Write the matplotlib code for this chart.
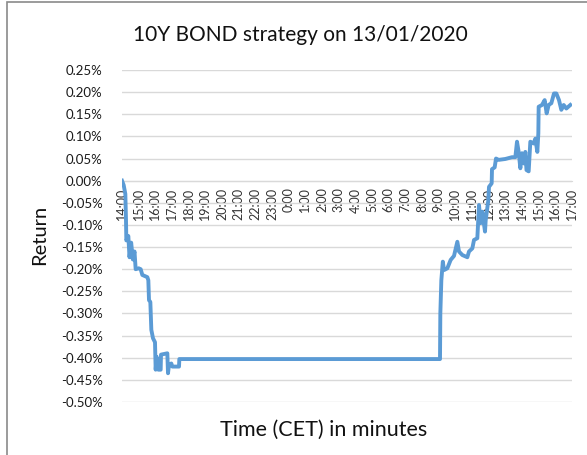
import matplotlib
matplotlib.use("Agg")
import matplotlib.pyplot as plt
from matplotlib.ticker import FuncFormatter, MultipleLocator
from matplotlib.patches import Rectangle

# hours elapsed since 14:00 on the first day
hours = [0.00, 0.10, 0.20, 0.24, 0.26, 0.38, 0.45, 0.55, 0.65, 0.75, 0.82, 1.00,
         1.12, 1.22, 1.52, 1.58, 1.62, 1.70, 1.76, 1.86, 1.98, 2.02, 2.08, 2.18,
         2.32, 2.34, 2.72, 2.76, 2.82, 2.96, 3.02, 3.42, 3.44, 19.08, 19.10, 19.16,
         19.25, 19.32, 19.52, 19.72, 19.92, 20.12, 20.22, 20.42, 20.72, 20.82, 21.02,
         21.12, 21.32, 21.42, 21.52, 21.62, 21.78, 21.82, 21.98, 22.02, 22.18, 22.20,
         22.36, 22.44, 22.60, 23.00, 23.40, 23.60, 23.70, 23.80, 23.90, 24.00, 24.10,
         24.20, 24.27, 24.40, 24.50, 24.70, 24.80, 24.92, 24.98, 25.00, 25.20, 25.36,
         25.48, 25.60, 25.76, 25.92, 26.06, 26.22, 26.36, 26.50, 26.66, 26.90]
# strategy return in percent
returns_pct = [0.000, -0.010, -0.030, -0.090, -0.135, -0.125, -0.173, -0.140, -0.178,
               -0.160, -0.200, -0.198, -0.200, -0.213, -0.218, -0.225, -0.270, -0.274,
               -0.337, -0.356, -0.365, -0.427, -0.398, -0.427, -0.427, -0.393, -0.390,
               -0.435, -0.416, -0.413, -0.420, -0.420, -0.403, -0.403, -0.300, -0.225,
               -0.183, -0.202, -0.198, -0.179, -0.170, -0.138, -0.160, -0.168, -0.173,
               -0.160, -0.153, -0.134, -0.130, -0.055, -0.096, -0.070, -0.115, -0.090,
               -0.044, -0.014, -0.006, 0.026, 0.030, 0.050, 0.047, 0.049, 0.053, 0.053,
               0.088, 0.065, 0.028, 0.062, 0.039, 0.065, 0.024, 0.021, 0.088, 0.084,
               0.095, 0.065, 0.107, 0.167, 0.171, 0.182, 0.152, 0.171, 0.175, 0.197,
               0.197, 0.182, 0.160, 0.171, 0.163, 0.171]
time_labels = ["14:00", "15:00", "16:00", "17:00", "18:00", "19:00", "20:00", "21:00",
               "22:00", "23:00", "0:00", "1:00", "2:00", "3:00", "4:00", "5:00", "6:00",
               "7:00", "8:00", "9:00", "10:00", "11:00", "12:00", "13:00", "14:00",
               "15:00", "16:00", "17:00"]

plt.rcParams['font.family'] = ['Lato', 'DejaVu Sans']

fig = plt.figure(figsize=(5.87, 4.55), dpi=100)
W, H = 587, 455
ax = fig.add_axes([122 / W, 1 - 402 / H, (572 - 122) / W, (402 - 70) / H])

for s in ['top', 'right', 'left']:
    ax.spines[s].set_visible(False)
ax.spines['bottom'].set_position(('data', 0))
ax.spines['bottom'].set_color('#D9D9D9')

ax.plot(hours, returns_pct, color='#5B9BD5', linewidth=2.8, solid_joinstyle='round', zorder=3)

ax.set_xlim(0, 27)
ax.set_ylim(-0.50, 0.25)
ax.yaxis.set_major_locator(MultipleLocator(0.05))
ax.yaxis.set_major_formatter(FuncFormatter(lambda v, p: f"{v:.2f}%"))
ax.grid(axis='y', color='#D9D9D9', linewidth=1.0)
ax.set_axisbelow(True)

ax.set_xticks(range(len(time_labels)))
ax.set_xticklabels(time_labels, rotation=90, fontsize=9, color='#333333', va='top', ha='center')

ax.tick_params(axis='x', length=0, pad=5)
ax.tick_params(axis='y', length=0, pad=14, labelsize=9.5, labelcolor='#1a1a1a')

fig.text(300 / W, 1 - 35 / H, "10Y BOND strategy on 13/01/2020", ha='center', va='center',
         fontsize=15, color='#111111')
fig.text(40 / W, 1 - 235 / H, "Return", ha='center', va='center', rotation=90,
         fontsize=14.5, color='#111111')
fig.text(324 / W, 1 - 430 / H, "Time (CET) in minutes", ha='center', va='center',
         fontsize=15.5, color='#111111')

fig.patches.append(Rectangle((6.5 / W, -0.1), 1.2, (1 - 2.5 / H) + 0.1, transform=fig.transFigure,
                             fill=False, edgecolor='#8a8a8a', linewidth=1.2))

fig.savefig("out.png", dpi=100)
